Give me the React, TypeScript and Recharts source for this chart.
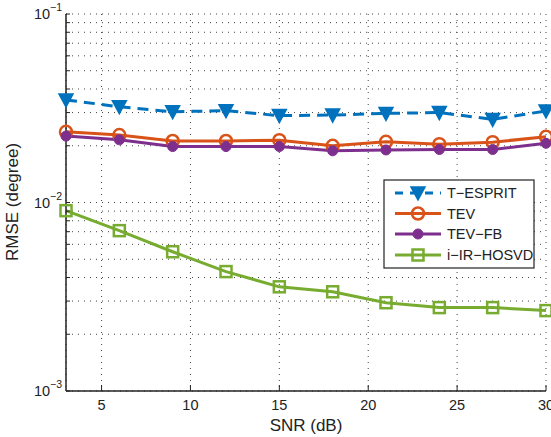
import React from 'react';
import { LineChart, Line, XAxis, YAxis, CartesianGrid } from 'recharts';

// SNR points (dB)
const snr = [3, 6, 9, 12, 15, 18, 21, 24, 27, 30];
// RMSE (degree) per method
const tEsprit = [0.035, 0.0322, 0.0303, 0.0307, 0.0289, 0.0291, 0.0297, 0.03, 0.0276, 0.0306];
const tev = [0.0237, 0.0228, 0.0212, 0.0212, 0.0214, 0.02, 0.021, 0.0204, 0.0209, 0.0223];
const tevFb = [0.0225, 0.0215, 0.0198, 0.0198, 0.0198, 0.0188, 0.019, 0.0191, 0.0191, 0.0206];
const irHosvd = [0.00905, 0.00709, 0.00548, 0.0043, 0.00357, 0.00336, 0.00294, 0.00277, 0.00277, 0.00267];

const xTicks = [5, 10, 15, 20, 25, 30];
const yTicks = [
  0.001, 0.002, 0.003, 0.004, 0.005, 0.006, 0.007, 0.008, 0.009,
  0.01, 0.02, 0.03, 0.04, 0.05, 0.06, 0.07, 0.08, 0.09, 0.1,
];
const seriesNames = ['T\u2212ESPRIT', 'TEV', 'TEV\u2212FB', 'i\u2212IR\u2212HOSVD'];
const seriesKeys = ['tEsprit', 'tev', 'tevFb', 'irHosvd'];
const colors = ['#0072BD', '#D95319', '#7E2F8E', '#77AC30'];

const data = snr.map((s, i) => ({
  snr: s,
  tEsprit: tEsprit[i],
  tev: tev[i],
  tevFb: tevFb[i],
  irHosvd: irHosvd[i],
}));

const FONT = '"Liberation Sans", Arial, Helvetica, sans-serif';

function Marker({ kind, cx, cy }: { kind: number; cx: number; cy: number }) {
  const c = colors[kind];
  if (kind === 0)
    return <polygon points={`${cx - 7},${cy - 6} ${cx + 7},${cy - 6} ${cx},${cy + 7}`} fill={c} stroke={c} strokeWidth={1.5} />;
  if (kind === 1) return <circle cx={cx} cy={cy} r={6} fill="none" stroke={c} strokeWidth={2.5} />;
  if (kind === 2) return <circle cx={cx} cy={cy} r={5} fill={c} stroke={c} strokeWidth={1} />;
  return <rect x={cx - 5.5} y={cy - 5.5} width={11} height={11} fill="none" stroke={c} strokeWidth={2.5} />;
}

const dotFor = (kind: number) => (p: any) => <Marker key={`${kind}-${p.index}`} kind={kind} cx={p.cx} cy={p.cy} />;

function YTick(props: any) {
  const { y, payload } = props;
  const lg = Math.log10(payload.value);
  const e = Math.round(lg);
  if (Math.abs(lg - e) > 1e-6) return <g />;
  return (
    <text x={62} y={y + 5} textAnchor="end" fontSize={14.5} fontFamily={FONT} fill="#222">
      10
      <tspan dy={-8} fontSize={10.5}>{'\u2212' + -e}</tspan>
    </text>
  );
}

function XTick(props: any) {
  const { x, payload } = props;
  return (
    <text x={x} y={410} textAnchor="middle" fontSize={14.5} fontFamily={FONT} fill="#222">
      {payload.value}
    </text>
  );
}

const empty = () => <g />;

function LegendBox() {
  const rows = [193, 213.5, 234, 255];
  return (
    <svg width={152} height={90} style={{ position: 'absolute', left: 383, top: 179 }}>
      <rect x={1} y={1} width={150} height={88} fill="#fff" stroke="#222" strokeWidth={1.2} />
      {seriesNames.map((n, i) => {
        const y = rows[i] - 179;
        return (
          <g key={n}>
            <line x1={12} x2={58} y1={y} y2={y} stroke={colors[i]} strokeWidth={3} strokeDasharray={i === 0 ? '8 7' : undefined} />
            <Marker kind={i} cx={35} cy={y} />
            <text x={64} y={y + 5} fontSize={14.5} fontFamily={FONT} fill="#222">{n}</text>
          </g>
        );
      })}
    </svg>
  );
}

export default function App() {
  return (
    <div style={{ position: 'absolute', left: 0, top: 0, width: 551, height: 437, background: '#fff' }}>
      <LineChart width={551} height={437} data={data} margin={{ top: 14, right: 5, left: 0, bottom: 0 }}>
        <CartesianGrid stroke="#444" strokeDasharray="1 5" />
        <XAxis dataKey="snr" type="number" domain={[3, 30]} ticks={xTicks} height={46}
          axisLine={{ stroke: '#222', strokeWidth: 1.5 }} tickLine={{ stroke: '#222' }} tickSize={-6}
          tick={<XTick />} interval={0} />
        <XAxis xAxisId="top" orientation="top" dataKey="snr" type="number" domain={[3, 30]} ticks={xTicks} height={0}
          axisLine={{ stroke: '#222', strokeWidth: 1.5 }} tickLine={{ stroke: '#222' }} tickSize={-6} tick={empty} />
        <YAxis scale="log" type="number" domain={[0.001, 0.1]} ticks={yTicks} width={66} allowDataOverflow
          axisLine={{ stroke: '#222', strokeWidth: 1.5 }} tickLine={{ stroke: '#222' }} tickSize={-4}
          tick={<YTick />} interval={0} />
        <YAxis yAxisId="right" orientation="right" scale="log" type="number" domain={[0.001, 0.1]} ticks={yTicks} width={0}
          allowDataOverflow axisLine={{ stroke: '#222', strokeWidth: 1.5 }} tickLine={{ stroke: '#222' }} tickSize={-4}
          tick={empty} interval={0} />
        {seriesKeys.map((k, i) => (
          <Line key={k} dataKey={k} name={seriesNames[i]} stroke={colors[i]} strokeWidth={3}
            strokeDasharray={i === 0 ? '11 7' : undefined} dot={dotFor(i)} activeDot={false}
            isAnimationActive={false} />
        ))}
        <text x={18} y={202} transform="rotate(-90 18 202)" textAnchor="middle" fontSize={17} fontFamily={FONT} fill="#222">
          RMSE (degree)
        </text>
        <text x={306} y={431} textAnchor="middle" fontSize={17} fontFamily={FONT} fill="#222">
          SNR (dB)
        </text>
      </LineChart>
      <LegendBox />
    </div>
  );
}
